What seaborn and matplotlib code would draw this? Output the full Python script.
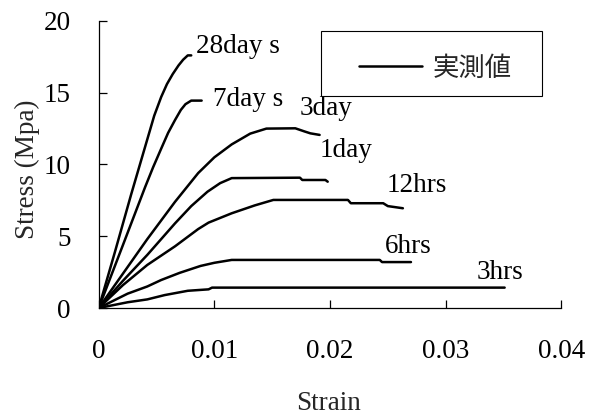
import matplotlib
matplotlib.use("Agg")
import matplotlib.pyplot as plt
import seaborn as sns
import pandas as pd
from matplotlib.lines import Line2D
from matplotlib.patches import Rectangle

# ---- data ----
ages = ["28day s", "7day s", "3day", "1day", "12hrs", "6hrs", "3hrs"]

strain_28d = [0, 0.0014, 0.0028, 0.0040, 0.0048, 0.0054, 0.0059, 0.0064, 0.0069, 0.0073, 0.0077, 0.0080]
stress_28d = [0, 3.9, 7.9, 11.2, 13.4, 14.7, 15.6, 16.3, 16.9, 17.3, 17.6, 17.6]

strain_7d = [0, 0.0021, 0.0040, 0.0047, 0.0054, 0.0060, 0.0066, 0.0071, 0.0075, 0.0080, 0.0089]
stress_7d = [0, 4.4, 8.4, 9.8, 11.1, 12.2, 13.1, 13.8, 14.2, 14.45, 14.45]

strain_3d = [0, 0.0021, 0.0042, 0.0066, 0.0086, 0.0100, 0.0115, 0.0131, 0.0145, 0.0170, 0.0178, 0.0183, 0.0191]
stress_3d = [0, 2.4, 4.8, 7.4, 9.4, 10.5, 11.4, 12.15, 12.5, 12.52, 12.3, 12.17, 12.06]

strain_1d = [0, 0.0021, 0.0042, 0.0066, 0.0080, 0.0094, 0.0105, 0.0115, 0.0174, 0.0176, 0.0196, 0.0198]
stress_1d = [0, 1.9, 3.7, 5.9, 7.1, 8.1, 8.7, 9.05, 9.08, 8.92, 8.92, 8.8]

strain_12h = [0, 0.0021, 0.0042, 0.0066, 0.0086, 0.0095, 0.0115, 0.0135, 0.0151, 0.02155, 0.0218, 0.0246, 0.0250, 0.0263]
stress_12h = [0, 1.6, 3.0, 4.3, 5.5, 5.95, 6.6, 7.15, 7.53, 7.53, 7.3, 7.3, 7.1, 6.95]

strain_6h = [0, 0.0025, 0.0042, 0.0054, 0.0070, 0.0088, 0.0100, 0.0115, 0.0243, 0.0245, 0.0270]
stress_6h = [0, 1.0, 1.5, 1.95, 2.45, 2.93, 3.15, 3.35, 3.35, 3.2, 3.2]

strain_3h = [0, 0.0025, 0.0042, 0.0057, 0.0077, 0.0095, 0.0098, 0.0351]
stress_3h = [0, 0.4, 0.6, 0.9, 1.2, 1.3, 1.42, 1.42]

x_ticks = [0, 0.01, 0.02, 0.03, 0.04]
x_ticklabels = ["0", "0.01", "0.02", "0.03", "0.04"]
y_ticks = [0, 5, 10, 15, 20]
legend_label = "実測値"
x_label = "Strain"
y_label = "Stress (Mpa)"

series = {
    "28day s": (strain_28d, stress_28d),
    "7day s": (strain_7d, stress_7d),
    "3day": (strain_3d, stress_3d),
    "1day": (strain_1d, stress_1d),
    "12hrs": (strain_12h, stress_12h),
    "6hrs": (strain_6h, stress_6h),
    "3hrs": (strain_3h, stress_3h),
}

# label anchor positions (data coords, left/center)
label_pos = {
    "28day s": (0.0084, 18.2),
    "7day s": (0.0099, 14.5),
    "3day": (0.0174, 13.9),
    "1day": (0.0191, 11.0),
    "12hrs": (0.0249, 8.55),
    "6hrs": (0.02475, 4.27),
    "3hrs": (0.0327, 2.46),
}

rows = []
for age in ages:
    xs, ys = series[age]
    for i, (xv, yv) in enumerate(zip(xs, ys)):
        rows.append({"age": age, "order": i, "strain": xv, "stress": yv})
df = pd.DataFrame(rows)

sns.set_style("ticks")
plt.rcParams["font.family"] = ["Liberation Serif", "Noto Sans CJK JP", "DejaVu Sans"]

fig = plt.figure(figsize=(5.89, 4.19), dpi=100)
ax = fig.add_axes([0.1676, 0.2649, 0.7854, 0.6851])

sns.lineplot(data=df, x="strain", y="stress", hue="age", units="age",
             estimator=None, sort=False, palette=["black"] * len(ages),
             linewidth=1.8, legend=False, ax=ax)

fs = 19.5
for age in ages:
    tx, ty = label_pos[age]
    ax.text(tx, ty, age, fontsize=fs, va="center", ha="left", color="black")

ax.set_xlim(0, 0.04)
ax.set_ylim(0, 20)
ax.set_xticks(x_ticks)
ax.set_xticklabels(x_ticklabels)
ax.set_yticks(y_ticks)
ax.tick_params(axis="both", direction="in", length=6, width=0.9, labelsize=fs, colors="black")
ax.tick_params(axis="x", pad=22)
ax.tick_params(axis="y", pad=20)
sns.despine(ax=ax)
for s in ["left", "bottom"]:
    ax.spines[s].set_linewidth(0.9)
    ax.spines[s].set_color("black")

ax.set_xlabel(x_label, fontsize=fs)
ax.set_ylabel(y_label, fontsize=fs)
ax.xaxis.set_label_coords(0.4957, -0.289)
ax.yaxis.set_label_coords(-0.128, 0.484)

# legend box
ax.add_patch(Rectangle((0.4806, 0.7387), 0.4777, 0.2265, transform=ax.transAxes,
                       facecolor="white", edgecolor="black", linewidth=0.8,
                       zorder=5, clip_on=False))
handle = Line2D([], [], color="black", linewidth=1.8)
leg = ax.legend([handle], [legend_label], loc="center",
                bbox_to_anchor=(0.728, 0.836), frameon=False,
                handlelength=2.4, handletextpad=0.4, borderpad=0.0,
                prop={"family": ["Noto Sans CJK JP"], "size": 19})
leg.set_zorder(6)

fig.savefig("out.png", dpi=100, facecolor="white")
